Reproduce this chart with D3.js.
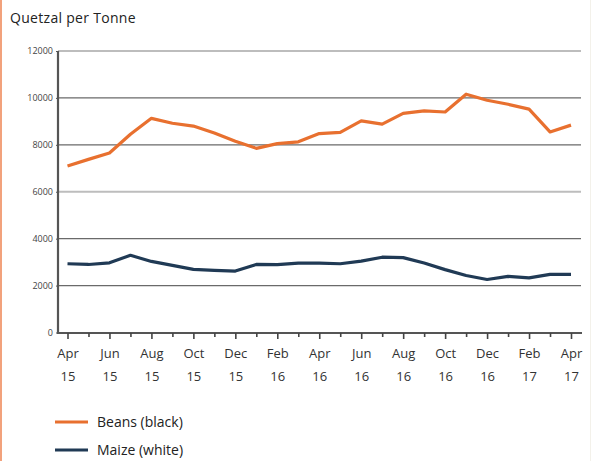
<!DOCTYPE html>
<html><head><meta charset="utf-8">
<script src="https://cdn.jsdelivr.net/npm/d3@7"></script>
<style>body{margin:0;background:#fff;} svg{display:block;}</style>
</head><body>
<svg id="c" width="597" height="461"></svg>
<script>
const months = ["Apr 15","May 15","Jun 15","Jul 15","Aug 15","Sep 15","Oct 15","Nov 15","Dec 15","Jan 16","Feb 16","Mar 16","Apr 16","May 16","Jun 16","Jul 16","Aug 16","Sep 16","Oct 16","Nov 16","Dec 16","Jan 17","Feb 17","Mar 17","Apr 17"];
const beans = [7100,7380,7650,8450,9130,8920,8800,8500,8150,7850,8050,8130,8480,8530,9020,8880,9340,9450,9400,10160,9900,9730,9520,8550,8840];
const maize = [2930,2900,2970,3290,3030,2860,2690,2650,2620,2900,2890,2960,2960,2930,3040,3210,3190,2960,2680,2430,2260,2390,2330,2480,2480];
const yTicks = [0,2000,4000,6000,8000,10000,12000];
const xLabelTop = ["Apr","Jun","Aug","Oct","Dec","Feb","Apr","Jun","Aug","Oct","Dec","Feb","Apr"];
const xLabelBottom = ["15","15","15","15","15","16","16","16","16","16","16","17","17"];
const seriesNames = ["Beans (black)","Maize (white)"];
const colors = ["#e8702f","#203a55"];

const svg = d3.select("#c");
const x = d3.scaleLinear().domain([0, 24]).range([67.5, 571]);
const y = d3.scaleLinear().domain([0, 12000]).range([332.5, 51]);

svg.append("rect").attr("x",0).attr("y",0).attr("width",2).attr("height",461).attr("fill","#f2a27c");
svg.append("rect").attr("x",590).attr("y",0).attr("width",1).attr("height",461).attr("fill","#f3f1ea");

svg.append("text").attr("x",10).attr("y",23).attr("font-family","'Open Sans', sans-serif")
  .attr("font-size",14).attr("letter-spacing",0.3).attr("fill","#222").text("Quetzal per Tonne");

svg.append("g").selectAll("line").data(yTicks.filter(d=>d>0)).join("line")
  .attr("x1",58).attr("x2",581)
  .attr("y1",d=>y(d)).attr("y2",d=>y(d))
  .attr("stroke",d=> (d===12000||d===6000) ? "#bdbdbd" : "#6a6a6a")
  .attr("stroke-width",d=> (d===12000||d===6000) ? 2 : 1.2);

const yAxis = d3.axisLeft(y).tickValues(yTicks).tickSize(2).tickPadding(3).tickFormat(d3.format("d"));
const gy = svg.append("g").attr("transform","translate(58,0)").call(yAxis);
gy.select(".domain").attr("stroke","#555").attr("stroke-width",2.2).attr("d","M0,"+y(12000)+"V"+(y(0)+1));
gy.selectAll(".tick line").attr("stroke","#555");
gy.selectAll(".tick text").attr("font-family","'Open Sans', sans-serif").attr("font-size",9).attr("fill","#444");

const xAxis = d3.axisBottom(x).tickValues(d3.range(0,25)).tickSize(0).tickFormat("");
const gx = svg.append("g").attr("transform","translate(0,333)").call(xAxis);
gx.select(".domain").attr("stroke","#555").attr("stroke-width",2.2).attr("d","M57,0H582");
gx.selectAll(".tick").append("line").attr("y1",0)
  .attr("y2",d=> d%2===0 ? 6 : 4).attr("stroke","#444").attr("stroke-width",1.6);
gx.selectAll(".tick").filter(d=>d%2===0).each(function(d){
  const g = d3.select(this); const i = d/2;
  g.append("text").attr("y",25).attr("text-anchor","middle").attr("font-family","'Open Sans', sans-serif")
   .attr("font-size",13).attr("fill","#333").text(xLabelTop[i]);
  g.append("text").attr("y",48).attr("text-anchor","middle").attr("font-family","'Open Sans', sans-serif")
   .attr("font-size",13).attr("fill","#333").text(xLabelBottom[i]);
});

const line = d3.line().x((d,i)=>x(i)).y(d=>y(d));
[beans, maize].forEach((s,k)=>{
  svg.append("path").datum(s).attr("d",line).attr("fill","none")
    .attr("stroke",colors[k]).attr("stroke-width",3.2).attr("stroke-linejoin","round");
});

const lg = svg.append("g");
seriesNames.forEach((n,k)=>{
  const yy = 422 + k*28;
  lg.append("line").attr("x1",55).attr("x2",88).attr("y1",yy).attr("y2",yy)
    .attr("stroke",colors[k]).attr("stroke-width",3.2);
  lg.append("text").attr("x",97).attr("y",yy+5).attr("font-family","'Open Sans', sans-serif")
    .attr("font-size",14).attr("fill","#222").text(n);
});
</script>
</body></html>
